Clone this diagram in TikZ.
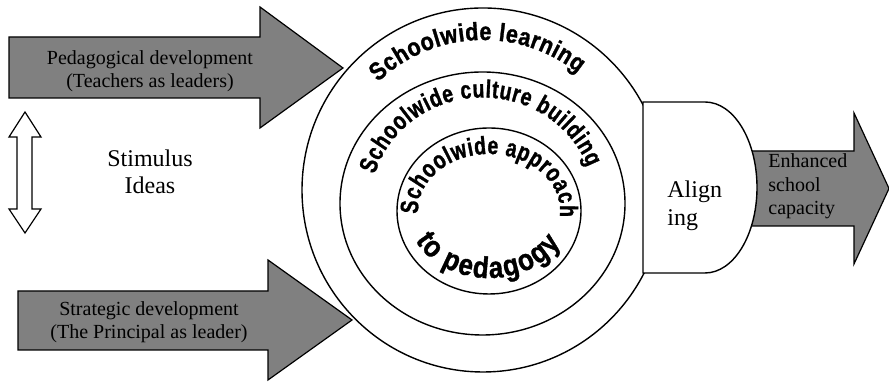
\documentclass[tikz,border=0pt]{standalone}
\usepackage{fontspec}
\setmainfont{Liberation Serif}
\newfontfamily\ringfam[FakeStretch=0.86, FakeBold=1.2]{Liberation Sans Bold}
\newfontfamily\ringnarrow[FakeStretch=0.775, FakeBold=1.2]{Liberation Sans Bold}
\usetikzlibrary{decorations.text}
\definecolor{arrowgray}{RGB}{128,128,128}
\newcommand\ringtext{\ringfam\fontsize{12.5}{14}\selectfont}
\newcommand\ringtight{\ringnarrow\fontsize{12.5}{14}\selectfont}
\newcommand\ringbig{\ringfam\fontsize{15}{17}\selectfont}

\begin{document}
\begin{tikzpicture}[
    x=0.5pt, y=0.5pt,
    blockarrow/.style={draw, fill=arrowgray, line width=0.6pt},
    hollowarrow/.style={draw, fill=white, line width=0.6pt},
    ring/.style={draw, fill=white, line width=0.7pt},
    small/.style={inner sep=0pt, font=\fontsize{10}{11.5}\selectfont},
    large/.style={inner sep=0pt, font=\fontsize{12}{13.8}\selectfont},
    ringlabel/.style={decorate, decoration={text along path, text align=fit to path, text={#1}}}
]
\useasboundingbox (0,0) rectangle (889,383);

% the two inputs on the left
\draw[blockarrow] (9,346) -- (260,346) -- (260,376) -- (343,315) -- (260,255) -- (260,285) -- (9,285) -- cycle;
\draw[blockarrow] (18,92) -- (268,92) -- (268,123) -- (352,63) -- (268,3) -- (268,33) -- (18,33) -- cycle;
\draw[hollowarrow] (25,271) -- (41,246) -- (32,246) -- (32,174) -- (41,174) -- (25,150)
    -- (9,174) -- (17,174) -- (17,246) -- (9,246) -- cycle;

\node[small, align=center] (peda) at (150,311.5) {Pedagogical development\\(Teachers as leaders)};
\node[small, align=center] (strat) at (149,60.5) {Strategic development\\(The Principal as leader)};
\node[large, align=center] (stim) at (150,211) {Stimulus\\Ideas};

% nested rings
\draw[ring] (483,193) ellipse [x radius=181, y radius=182];
\draw[ring] (482.5,179.5) ellipse [x radius=142.5, y radius=131.5];
\draw[ring] (489,172) ellipse [x radius=92, y radius=83];

\path[ringlabel={|\ringtext|Schoolwide learning}]
    (483,193) ++(134:151 and 150) arc[start angle=134, end angle=51, x radius=151, y radius=150];
\path[ringlabel={|\ringtight|Schoolwide culture building}]
    (482.5,179.5) ++(164:112 and 106) arc[start angle=164, end angle=20, x radius=112, y radius=106];
\path[ringlabel={|\ringtight|Schoolwide approach}]
    (489,172) ++(183:71 and 57) arc[start angle=183, end angle=-6, x radius=71, y radius=57];
\path[ringlabel={|\ringbig|to pedagogy}]
    (489,172) ++(206:82 and 67) arc[start angle=206, end angle=331, x radius=82, y radius=67];

% output side
\draw[blockarrow] (740,232) -- (854,232) -- (854,270) -- (889,194.5) -- (854,119) -- (854,157) -- (740,157) -- cycle;
\draw[ring] (643,281) -- (705,281) arc[start angle=90, end angle=-90, x radius=52, y radius=85.5] -- (643,110) -- cycle;

\node[large, align=left, anchor=west] (align) at (667,177) {Align\\ing};
\node[small, align=left, anchor=west, font=\fontsize{10}{11.75}\selectfont] (enh) at (768,196.5) {Enhanced\\school\\capacity};
\end{tikzpicture}
\end{document}
